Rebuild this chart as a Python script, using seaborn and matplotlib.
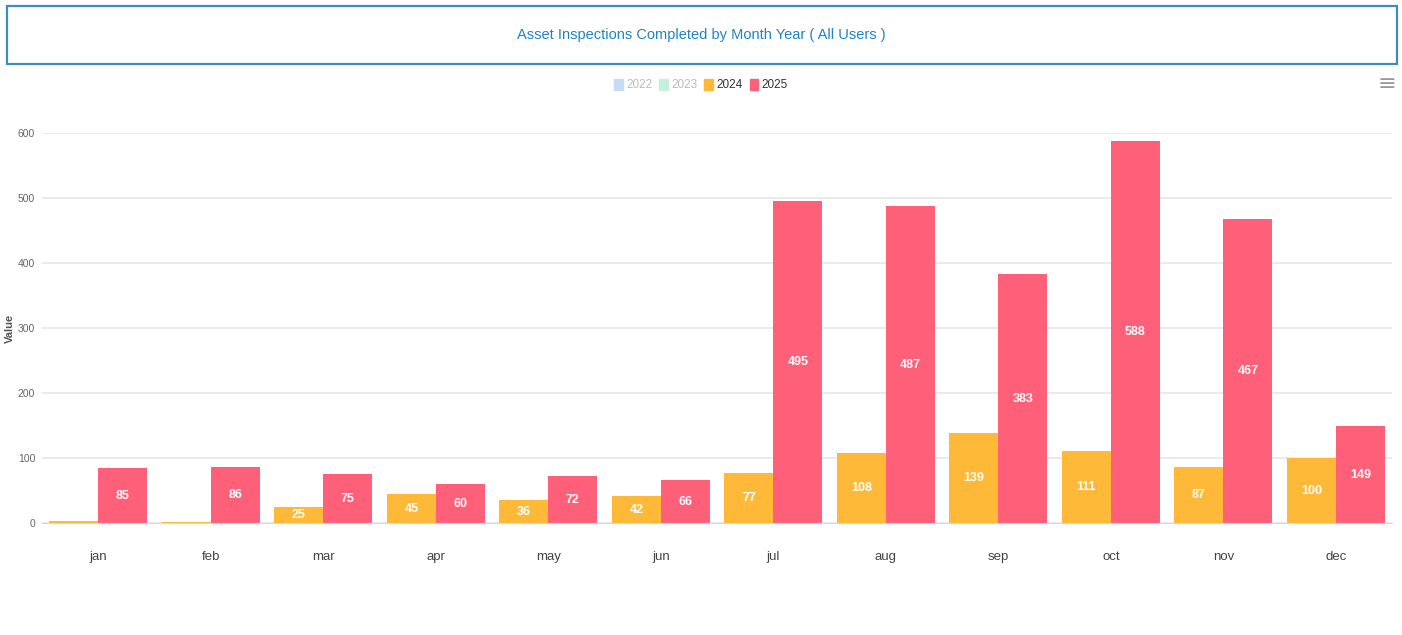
import matplotlib
matplotlib.use("Agg")
import matplotlib.pyplot as plt
import matplotlib.patches as mpatches
import seaborn as sns
import pandas as pd

# chart data
months = ["jan", "feb", "mar", "apr", "may", "jun", "jul", "aug", "sep", "oct", "nov", "dec"]
years = ["2022", "2023", "2024", "2025"]
visible_years = ["2024", "2025"]
values_2024 = [3, 2, 25, 45, 36, 42, 77, 108, 139, 111, 87, 100]
values_2025 = [85, 86, 75, 60, 72, 66, 495, 487, 383, 588, 467, 149]
year_colors = {"2022": "#c5dcf3", "2023": "#c6efdf", "2024": "#ffb938", "2025": "#ff6079"}
yticks = [0, 100, 200, 300, 400, 500, 600]

title = "Asset Inspections Completed by Month Year ( All Users )"
narrow = ["Liberation Sans Narrow", "Liberation Sans", "DejaVu Sans"]


def main():
    sns.set_style("white")
    plt.rcParams["font.family"] = narrow

    df = pd.DataFrame({
        "month": months * 2,
        "year": ["2024"] * len(months) + ["2025"] * len(months),
        "value": values_2024 + values_2025,
    })

    fig = plt.figure(figsize=(14.02, 6.35), dpi=100)
    ax = fig.add_axes([0.030, 0.176, 0.963, 0.615])

    sns.barplot(data=df, x="month", y="value", hue="year", hue_order=visible_years,
                order=months, palette=year_colors, width=0.87, saturation=1,
                edgecolor="none", legend=False, ax=ax)

    # data labels in the middle of each bar
    for cont in ax.containers:
        for bar in cont:
            h = bar.get_height()
            if h < 10:
                continue
            ax.text(bar.get_x() + bar.get_width() / 2, h / 2, f"{int(h)}",
                    ha="center", va="center", color="white", fontsize=9,
                    fontweight="bold")

    ax.set_ylim(0, 600)
    ax.set_xlim(-0.5, len(months) - 0.5)
    ax.set_yticks(yticks)
    ax.set_yticklabels([str(t) for t in yticks], color="#666666", fontsize=7.5)
    ax.set_xlabel("")
    ax.set_ylabel("Value", fontsize=8, fontweight="bold", color="#555555")
    ax.yaxis.set_label_coords(-0.02, 0.5)
    ax.yaxis.grid(True, color="#e6e6e6", linewidth=1.2)
    ax.set_axisbelow(True)
    for side in ["top", "right", "left"]:
        ax.spines[side].set_visible(False)
    ax.spines["bottom"].set_color("#d8d8e0")
    ax.tick_params(axis="y", length=0, pad=5)
    ax.tick_params(axis="x", length=0, pad=20, labelsize=9.5, labelcolor="#444444")

    # tick marks between categories
    ax.set_xticks([i + 0.5 for i in range(-1, len(months))], minor=True)
    ax.tick_params(axis="x", which="minor", length=8, color="#d8d8e0")

    # title box
    fig.add_artist(mpatches.Rectangle((7 / 1402, 1 - 64 / 635), 1390 / 1402, 58 / 635,
                                      transform=fig.transFigure, fill=False,
                                      edgecolor="#3c8dbc", linewidth=1.6))
    fig.text(0.5, 1 - 35 / 635, title, ha="center", va="center", color="#1f84c4",
             fontsize=10.5)

    # legend
    handles = [mpatches.Patch(color=year_colors[y], label=y) for y in years]
    leg = fig.legend(handles=handles, loc="center", bbox_to_anchor=(0.5, 1 - 85 / 635),
                     ncol=4, frameon=False, handlelength=0.7,
                     handleheight=1.1, handletextpad=0.3, columnspacing=0.6,
                     prop={"family": narrow, "size": 8.5})
    for txt, y in zip(leg.get_texts(), years):
        txt.set_color("#333333" if y in visible_years else "#bbbbbb")

    # menu icon
    fig.text(1387 / 1402, 1 - 84 / 635, "\u2261", ha="center", va="center",
             color="#999999", fontsize=16, family=["DejaVu Sans"])

    fig.savefig("out.png", dpi=100)
    plt.close(fig)


if __name__ == "__main__":
    main()
